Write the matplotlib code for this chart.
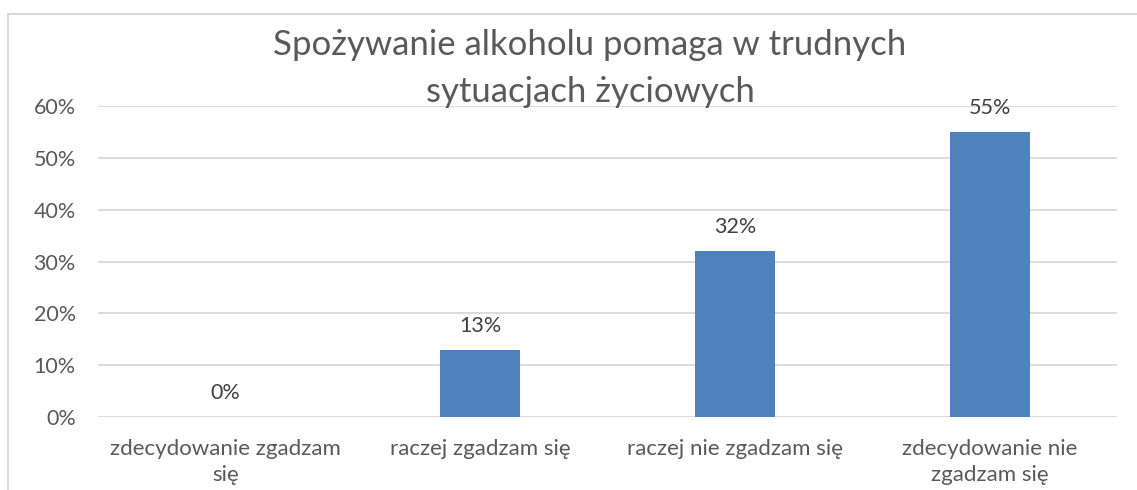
import matplotlib.pyplot as plt
import matplotlib.patches as patches

categories = ["zdecydowanie zgadzam\nsię", "raczej zgadzam się",
              "raczej nie zgadzam się", "zdecydowanie nie\nzgadzam się"]
values = [0.0, 0.13, 0.32, 0.55]
value_labels = ["0%", "13%", "32%", "55%"]
yticks = [0.0, 0.1, 0.2, 0.3, 0.4, 0.5, 0.6]
ytick_labels = ["0%", "10%", "20%", "30%", "40%", "50%", "60%"]
title = "Spożywanie alkoholu pomaga w trudnych\nsytuacjach życiowych"

plt.rcParams['font.family'] = ['Lato', 'DejaVu Sans']
text_col = "#595959"
bar_col = "#4F81BD"
grid_col = "#D9D9D9"

W, H = 1137, 490
fig = plt.figure(figsize=(W / 100, H / 100), dpi=100)

# chart border (only top/left visible in the reference)
fig.patches.append(patches.Rectangle((8 / W, -0.1), 1.2, 1 - 14 / H + 0.1,
                                     transform=fig.transFigure, fill=False,
                                     edgecolor=grid_col, linewidth=1.5))

ax = fig.add_axes([98 / W, 1 - 417 / H, (1117 - 98) / W, (417 - 106) / H])
x = range(len(categories))
ax.bar(x, values, width=0.314, color=bar_col, zorder=3)
ax.set_xlim(-0.5, len(categories) - 0.5)
ax.set_ylim(0, 0.6)
ax.set_yticks(yticks)
ax.set_yticklabels(ytick_labels)
ax.set_xticks(list(x))
ax.set_xticklabels(categories, linespacing=1.35)
ax.tick_params(axis='both', length=0, colors=text_col)
ax.tick_params(axis='x', pad=16, labelsize=16)
ax.tick_params(axis='y', pad=16, labelsize=15.5)
for lab in ax.get_yticklabels():
    lab.set_horizontalalignment('right')
ax.grid(axis='y', color=grid_col, linewidth=1.3, zorder=0)
for s in ax.spines.values():
    s.set_visible(False)

for i, (v, lab) in enumerate(zip(values, value_labels)):
    ax.annotate(lab, (i, v), xytext=(0, 10), textcoords='offset points',
                ha='center', va='bottom', fontsize=15.5, color='#404040')

fig.text(590 / W, 1 - 68.5 / H, title, ha='center', va='center',
         fontsize=25, color=text_col, linespacing=1.55)

fig.savefig("out.png", dpi=100, facecolor='white')
